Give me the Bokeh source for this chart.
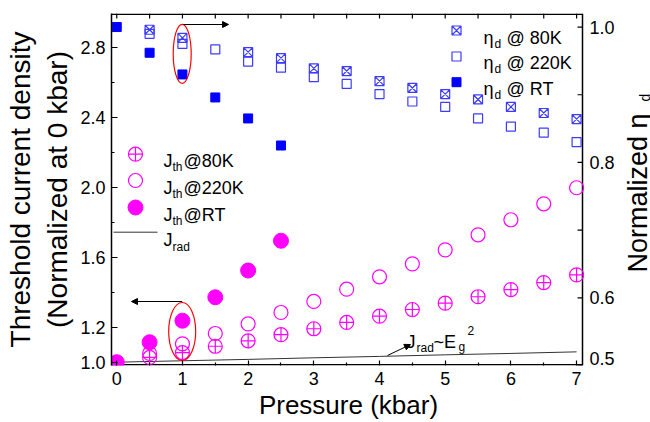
import math
from bokeh.plotting import figure
from bokeh.models import (Range1d, FixedTicker, Label, Arrow, NormalHead,
                          PrintfTickFormatter)
from bokeh.embed import file_html
from bokeh.resources import INLINE

# ---------------- data ----------------
p_rt = [0, 0.5, 1, 1.5, 2, 2.5]
p_80k_eta = [0.5, 1, 2, 2.5, 3, 3.5, 4, 4.5, 5, 5.5, 6, 6.5, 7]
p_half = [0.5, 1, 1.5, 2, 2.5, 3, 3.5, 4, 4.5, 5, 5.5, 6, 6.5, 7]
p_rad = [0, 1, 2, 3, 4, 5, 6, 7]

eta_rt = [1.0, 0.962, 0.930, 0.896, 0.865, 0.825]
eta_80k = [0.996, 0.984, 0.963, 0.954, 0.939, 0.935, 0.920, 0.910, 0.901, 0.893, 0.882, 0.873, 0.864]
eta_220k = [0.990, 0.975, 0.967, 0.949, 0.940, 0.926, 0.916, 0.901, 0.890, 0.882, 0.865, 0.853, 0.844, 0.830]

jth_rt = [1.0, 1.114, 1.237, 1.371, 1.524, 1.694]
jth_220k = [1.05, 1.105, 1.164, 1.219, 1.284, 1.347, 1.417, 1.488, 1.562, 1.642, 1.728, 1.814, 1.905, 1.997]
jth_80k = [1.027, 1.055, 1.091, 1.122, 1.157, 1.191, 1.227, 1.263, 1.301, 1.337, 1.374, 1.415, 1.455, 1.499]
j_rad = [1.0, 1.008, 1.016, 1.025, 1.033, 1.042, 1.050, 1.059]

x_ticks = [0, 1, 2, 3, 4, 5, 6, 7]
x_minor = [0.5, 1.5, 2.5, 3.5, 4.5, 5.5, 6.5]
yl_ticks = [1.0, 1.2, 1.6, 2.0, 2.4, 2.8]
yl_minor = [1.4, 1.8, 2.2, 2.6]
yr_ticks = [0.5, 0.6, 0.8, 1.0]
yr_minor = [0.7, 0.9]

# ---------------- layout ----------------
W, H = 650, 422
X0, X1 = -0.08, 7.09          # visible plot box spans these x values
Y0, Y1 = 0.981, 2.993
R0, R1 = 0.5, 1.02
L, R, T, B = 111, 582, 13, 365  # visible plot box in canvas pixels
XR = X1 + (W - R) / (R - L) * (X1 - X0)  # frame extends to the canvas edge

def fx(px):
    return X0 + (px - L) / (R - L) * (X1 - X0)

def fy(py):
    return Y0 + (B - py) / (B - T) * (Y1 - Y0)

FONT = "Liberation Sans"
BLUE = "#0000ff"
BLUE_L = "#3c3cff"
MAG = "#ff00ff"

p = figure(width=W, height=H, title=None,
           x_range=Range1d(X0, XR), y_range=Range1d(Y0, Y1),
           output_backend="svg", toolbar_location=None,
           min_border_left=L, min_border_top=T,
           min_border_right=0, min_border_bottom=H - B)
p.extra_y_ranges = {"eta": Range1d(R0, R1)}
p.xgrid.visible = False
p.ygrid.visible = False
p.outline_line_color = None
p.background_fill_color = "white"
p.border_fill_color = "white"

def style_axis(ax, tick_in, minor_in):
    ax.axis_line_color = "black"
    ax.axis_line_width = 1.5
    ax.major_tick_line_color = "black"
    ax.minor_tick_line_color = "black"
    ax.major_tick_line_width = 1.2
    ax.minor_tick_line_width = 1.2
    ax.major_tick_in = tick_in
    ax.major_tick_out = 0
    ax.minor_tick_in = minor_in
    ax.minor_tick_out = 0
    ax.major_label_text_font = FONT
    ax.major_label_text_font_size = "18px"
    ax.major_label_text_color = "black"
    ax.axis_label_text_font = FONT
    ax.axis_label_text_font_style = "normal"
    ax.axis_label_text_color = "black"

xa = p.xaxis[0]
xa.ticker = FixedTicker(ticks=x_ticks, minor_ticks=x_minor)
style_axis(xa, 5, 3)
xa.axis_line_color = None
xa.major_label_standoff = 6
# trailing no-break spaces re-centre the title under the visible box
xa.axis_label = "Pressure (kbar)" + "\u00a0" * 9
xa.axis_label_text_font_size = "26px"
xa.axis_label_standoff = 2

ya = p.yaxis[0]
ya.ticker = FixedTicker(ticks=yl_ticks, minor_ticks=yl_minor)
ya.formatter = PrintfTickFormatter(format="%.1f")
style_axis(ya, 6, 3)
ya.major_label_standoff = 6
ya.axis_label = "Threshold current density\n(Normalized at 0 kbar)"
ya.axis_label_text_font_size = "28px"
ya.axis_label_standoff = 4

# ---------------- box lines and ticks (top, right, bottom) ----------------
yb = fy(B - 0.75)
yt = fy(T + 0.75)
p.segment(x0=[X0, X0, X1], y0=[yb, yt, Y0], x1=[X1, X1, X1], y1=[yb, yt, Y1],
          line_color="black", line_width=1.5)
top_ticks = x_ticks + x_minor
p.segment(x0=top_ticks, y0=[Y1] * len(top_ticks), x1=top_ticks,
          y1=[fy(T + 5)] * len(top_ticks), line_color="black", line_width=1.2)
r_all = yr_ticks + yr_minor
p.segment(x0=[X1] * len(r_all), y0=r_all, x1=[fx(R - 5)] * len(r_all), y1=r_all,
          line_color="black", line_width=1.2, y_range_name="eta")
for t in yr_ticks:
    if t == R0:
        # lowest label sits on the box edge; lift it so it is not clipped
        p.add_layout(Label(x=fx(589), y=fy(358), text=f"{t:.1f}",
                           text_font=FONT, text_font_size="18px", text_align="left",
                           text_baseline="middle", text_color="black"))
    else:
        p.add_layout(Label(x=fx(589), y=t, y_range_name="eta", text=f"{t:.1f}",
                           text_font=FONT, text_font_size="18px", text_align="left",
                           text_baseline="middle", text_color="black"))

# ---------------- data marks ----------------
p.line(p_rad, j_rad, line_color="#333333", line_width=1)

p.scatter(p_half, jth_80k, marker="circle_cross", size=14, fill_color=None,
          line_color=MAG, line_width=1.2)
p.scatter(p_half, jth_220k, marker="circle", size=14, fill_color=None,
          line_color=MAG, line_width=1.2)
p.scatter(p_rt, jth_rt, marker="circle", size=15, fill_color=MAG,
          line_color=MAG)

p.scatter(p_80k_eta, eta_80k, marker="square_x", size=9, fill_color=None,
          line_color=BLUE_L, line_width=1.2, y_range_name="eta")
p.scatter(p_half, eta_220k, marker="square", size=9, fill_color=None,
          line_color=BLUE_L, line_width=1.2, y_range_name="eta")
p.scatter(p_rt, eta_rt, marker="square", size=9, fill_color=BLUE,
          line_color=BLUE, y_range_name="eta")

# ---------------- annotations ----------------
def lab(text, px, py, size=18, align="left", baseline="alphabetic", angle=0.0):
    p.add_layout(Label(x=fx(px), y=fy(py), text=text, text_font=FONT,
                       text_font_size=f"{size}px", text_align=align,
                       text_baseline=baseline, angle=angle, text_color="black"))

# right-hand title
lab("Normalized \u03b7", 637, 272, size=27, angle=math.pi / 2)
lab("d", 644, 101, size=14, angle=math.pi / 2)

# left legend
lx = fx(135)
p.scatter([lx], [fy(153.7)], marker="circle_cross", size=14, fill_color=None, line_color=MAG, line_width=1.2)
p.scatter([lx], [fy(180)], marker="circle", size=14, fill_color=None, line_color=MAG, line_width=1.2)
p.scatter([lx], [fy(207)], marker="circle", size=15, fill_color=MAG, line_color=MAG)
for base, tail in [(160, "@80K"), (187, "@220K"), (214, "@RT")]:
    lab("J", 163, base)
    lab("th", 172, base + 6, size=12)
    lab(tail, 183, base)
p.line([fx(113), fx(157)], [fy(231.7), fy(231.7)], line_color="#333333", line_width=1)
lab("J", 163, 239)
lab("rad", 172, 246, size=12)

# right legend
rx = fx(456)
p.scatter([rx], [fy(30)], marker="square_x", size=9, fill_color=None, line_color=BLUE_L, line_width=1.2)
p.scatter([rx], [fy(56)], marker="square", size=9, fill_color=None, line_color=BLUE_L, line_width=1.2)
p.scatter([rx], [fy(81.7)], marker="square", size=9, fill_color=BLUE, line_color=BLUE)
for base, tail in [(37, "@ 80K"), (62.5, "@ 220K"), (88, "@ RT")]:
    lab("\u03b7", 483, base)
    lab("d", 494, base + 6, size=12)
    lab(tail, 506, base)

# J_rad ~ E_g^2 annotation
lab("J", 406, 341)
lab("rad", 416, 347.5, size=12)
lab("~E", 433, 341)
lab("g", 458, 346.5, size=12)
lab("2", 467, 330, size=12)
p.add_layout(Arrow(end=NormalHead(size=6, fill_color="black", line_color="black"),
                   x_start=fx(387), y_start=fy(355), x_end=fx(410), y_end=fy(344),
                   line_color="black", line_width=1))

# ellipses and arrows
p.ellipse([fx(181.7)], [fy(53.3)], width=18, height=59, width_units="screen",
          height_units="screen", fill_color=None, line_color="red", line_width=1.2)
p.ellipse([fx(181.7)], [fy(331)], width=27, height=58, width_units="screen",
          height_units="screen", fill_color=None, line_color="red", line_width=1.2)
p.add_layout(Arrow(end=NormalHead(size=6, fill_color="black", line_color="black"),
                   x_start=fx(183), y_start=fy(24), x_end=fx(228), y_end=fy(24),
                   line_color="black", line_width=1))
p.add_layout(Arrow(end=NormalHead(size=6, fill_color="black", line_color="black"),
                   x_start=fx(181.7), y_start=fy(301), x_end=fx(131), y_end=fy(301),
                   line_color="black", line_width=1))

open("out.html", "w").write(file_html(p, INLINE))
